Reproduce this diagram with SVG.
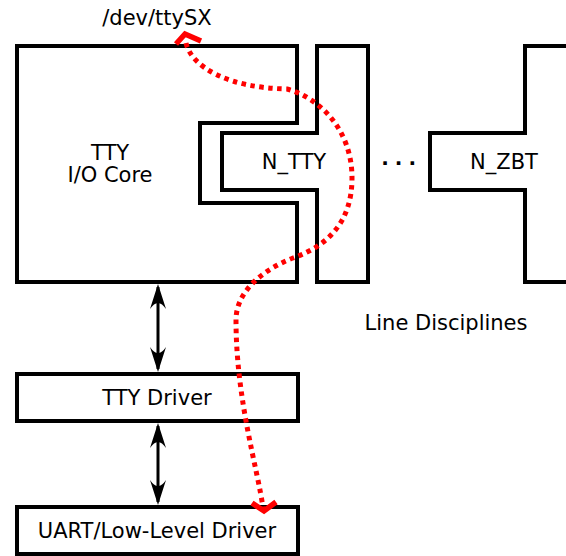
<svg xmlns="http://www.w3.org/2000/svg" width="566" height="556" viewBox="0 0 566 556">
  <style>
    .box { fill: #ffffff; stroke: #000000; stroke-width: 4; stroke-linejoin: miter; }
    .label { font-family: "DejaVu Sans", "Liberation Sans", sans-serif; font-size: 21px; fill: #000000; text-anchor: middle; }
    .link { fill: none; stroke: #000000; stroke-width: 3; }
    .flow { fill: none; stroke: #ff0000; stroke-width: 5; stroke-dasharray: 4.5 4.5; }
    .chevron { fill: none; stroke: #ff0000; stroke-width: 5.5; stroke-linejoin: miter; }
  </style>
  <defs>
    <marker id="head" viewBox="-26 -8.5 27 17" refX="-3" refY="0" markerWidth="27" markerHeight="17" markerUnits="userSpaceOnUse" orient="auto-start-reverse">
      <path d="M0,0 L-25,-8 Q-13,0 -25,8 Z" fill="#000000"/>
    </marker>
  </defs>
  <rect width="566" height="556" fill="#ffffff"/>

  <!-- TTY I/O core with its notch for the line discipline -->
  <g id="tty-core">
    <path class="box" d="M17,46 H297 V123 H200 V203 H297 V282 H17 Z"/>
    <text class="label" x="110" y="160">TTY</text>
    <text class="label" x="110" y="182">I/O Core</text>
  </g>

  <!-- N_TTY line discipline -->
  <g id="n-tty">
    <path class="box" d="M317,46 H368 V282 H317 V190 H222 V133 H317 Z"/>
    <text class="label" x="294" y="169">N_TTY</text>
  </g>

  <!-- further disciplines elided -->
  <g id="ellipsis">
    <text x="381.2" y="165" font-family="DejaVu Sans, sans-serif" font-weight="bold" font-size="20" letter-spacing="6" fill="#000000">...</text>
  </g>

  <!-- N_ZBT line discipline (runs off the right edge) -->
  <g id="n-zbt">
    <path class="box" d="M570,46 H525 V133 H430 V190 H525 V282 H570"/>
    <text class="label" x="504" y="169">N_ZBT</text>
  </g>

  <g id="line-disciplines-caption">
    <text class="label" x="446" y="330">Line Disciplines</text>
  </g>

  <g id="device-name">
    <text class="label" x="157" y="25">/dev/ttySX</text>
  </g>

  <g id="tty-driver">
    <rect class="box" x="17" y="374" width="281" height="47"/>
    <text class="label" x="157" y="405">TTY Driver</text>
  </g>

  <g id="uart-driver">
    <rect class="box" x="17" y="507" width="281" height="47"/>
    <text class="label" x="157" y="538">UART/Low-Level Driver</text>
  </g>

  <!-- connectors -->
  <g id="connectors">
    <line class="link" x1="158" y1="287" x2="158" y2="369" marker-start="url(#head)" marker-end="url(#head)"/>
    <line class="link" x1="158" y1="426" x2="158" y2="502" marker-start="url(#head)" marker-end="url(#head)"/>

    <!-- data path from the device node down to the hardware driver -->
    <path class="flow" d="M186,43 C192,68 230,88 287,89 C320,98 352,130 352,178 C352,220 330,245 293,258 C262,270 236,292 236,320 C236,400 258,470 263,508"/>
    <polyline class="chevron" points="176,44 185,34 201,41"/>
    <polyline class="chevron" points="252,503 264,511 276,502"/>
  </g>
</svg>
